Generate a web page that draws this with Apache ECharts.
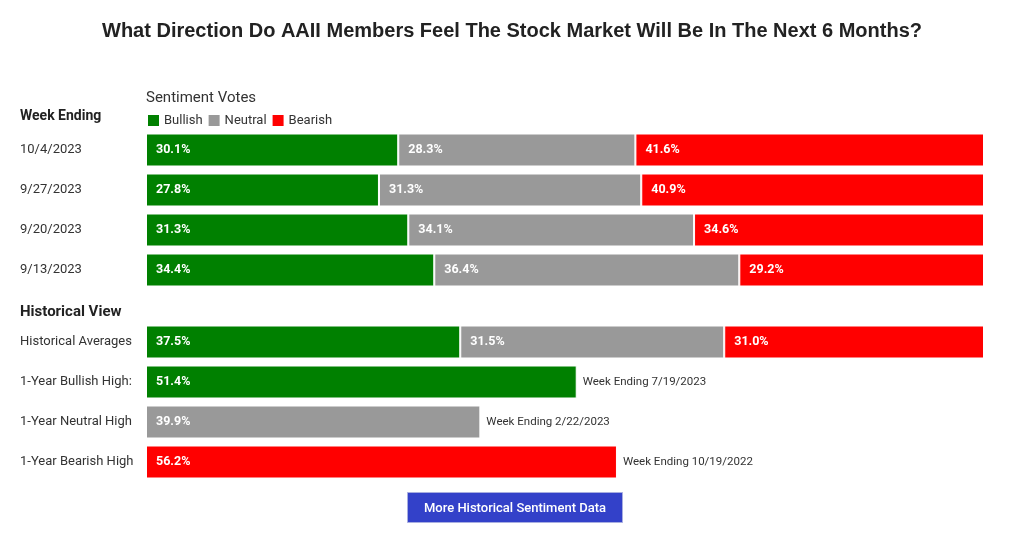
<!DOCTYPE html>
<html><head><meta charset="utf-8">
<script src="https://cdn.jsdelivr.net/npm/echarts@6/dist/echarts.min.js"></script>
<style>html,body{margin:0;padding:0;background:#fff}#c{width:1024px;height:540px}</style>
</head><body><div id="c"></div>
<script>
const weeks = ['10/4/2023', '9/27/2023', '9/20/2023', '9/13/2023'];
const weekBullish = [30.1, 27.8, 31.3, 34.4];
const weekNeutral = [28.3, 31.3, 34.1, 36.4];
const weekBearish = [41.6, 40.9, 34.6, 29.2];

const histRows = ['Historical Averages', '1-Year Bullish High:', '1-Year Neutral High', '1-Year Bearish High'];
const histBullish = [37.5, 51.4, null, null];
const histNeutral = [31.5, null, 39.9, null];
const histBearish = [31.0, null, null, 56.2];
const highValues = [null, 51.4, 39.9, 56.2];
const highDates = ['', 'Week Ending 7/19/2023', 'Week Ending 2/22/2023', 'Week Ending 10/19/2022'];

const GREEN = '#008000', GREY = '#999999', RED = '#ff0000';
const FONT = 'Roboto';

const chart = echarts.init(document.getElementById('c'));
const segLabel = {
  show: true, position: 'insideLeft', distance: 10, padding: [4, 0, 0, 0],
  color: '#fff', fontWeight: 'bold', fontSize: 12.5, fontFamily: FONT,
  formatter: p => p.value == null ? '' : p.value.toFixed(1) + '%'
};
function seg(name, data, color, idx) {
  return {
    name, type: 'bar', stack: 's' + idx, xAxisIndex: idx, yAxisIndex: idx,
    data, barWidth: 33,
    itemStyle: { color, borderColor: '#fff', borderWidth: 1 },
    label: segLabel, emphasis: { disabled: true }
  };
}
const yAxisBase = {
  type: 'category', inverse: true,
  axisLine: { show: false }, axisTick: { show: false },
  axisLabel: { align: 'left', margin: 126, padding: [4, 0, 0, 0], color: '#333', fontSize: 13, fontFamily: FONT }
};
const xAxisBase = { type: 'value', min: 0, max: 100, show: false };

chart.setOption({
  animation: false,
  textStyle: { fontFamily: FONT },
  title: {
    text: 'What Direction Do AAII Members Feel The Stock Market Will Be In The Next 6 Months?',
    left: 'center', top: 16,
    textStyle: { fontFamily: 'Liberation Sans', fontSize: 20, fontWeight: 'bold', color: '#222' }
  },
  legend: {
    left: 146, top: 113, padding: 0, itemWidth: 13, itemHeight: 13, itemGap: 4,
    icon: 'rect', data: ['Bullish', 'Neutral', 'Bearish'],
    textStyle: { color: '#333', fontSize: 13, fontFamily: FONT, padding: [0, 0, 0, -1] },
    selectedMode: false
  },
  grid: [
    { left: 146, right: 40, top: 130, height: 160 },
    { left: 146, right: 40, top: 322, height: 160 }
  ],
  xAxis: [Object.assign({ gridIndex: 0 }, xAxisBase), Object.assign({ gridIndex: 1 }, xAxisBase)],
  yAxis: [
    Object.assign({ gridIndex: 0, data: weeks }, yAxisBase),
    Object.assign({ gridIndex: 1, data: histRows }, yAxisBase)
  ],
  graphic: [
    { type: 'text', left: 146, top: 91, style: { text: 'Sentiment Votes', fill: '#333', font: '15px Roboto' } },
    { type: 'text', left: 20, top: 109, style: { text: 'Week Ending', fill: '#222', font: 'bold 14px Roboto' } },
    { type: 'text', left: 20, top: 305, style: { text: 'Historical View', fill: '#222', font: 'bold 15px Roboto' } },
    {
      type: 'group', left: 407, top: 492,
      children: [
        { type: 'rect', shape: { x: 0, y: 0, width: 215, height: 30 }, style: { fill: '#3341c9', stroke: '#a8aee0', lineWidth: 1 } },
        { type: 'text', x: 107.5, y: 16, style: { text: 'More Historical Sentiment Data', fill: '#fff', font: '500 13px Roboto', align: 'center', verticalAlign: 'middle' } }
      ]
    }
  ],
  series: [
    seg('Bullish', weekBullish, GREEN, 0),
    seg('Neutral', weekNeutral, GREY, 0),
    seg('Bearish', weekBearish, RED, 0),
    seg('Bullish', histBullish, GREEN, 1),
    seg('Neutral', histNeutral, GREY, 1),
    seg('Bearish', histBearish, RED, 1),
    {
      name: 'dates', type: 'bar', xAxisIndex: 1, yAxisIndex: 1, barWidth: 33, barGap: '-100%',
      data: highValues, silent: true, z: 1,
      itemStyle: { color: 'rgba(0,0,0,0)' },
      label: {
        show: true, position: 'right', distance: 6, padding: [4, 0, 0, 0], color: '#333', fontSize: 11.5, fontFamily: FONT,
        formatter: p => highDates[p.dataIndex]
      }
    }
  ]
});
</script></body></html>
